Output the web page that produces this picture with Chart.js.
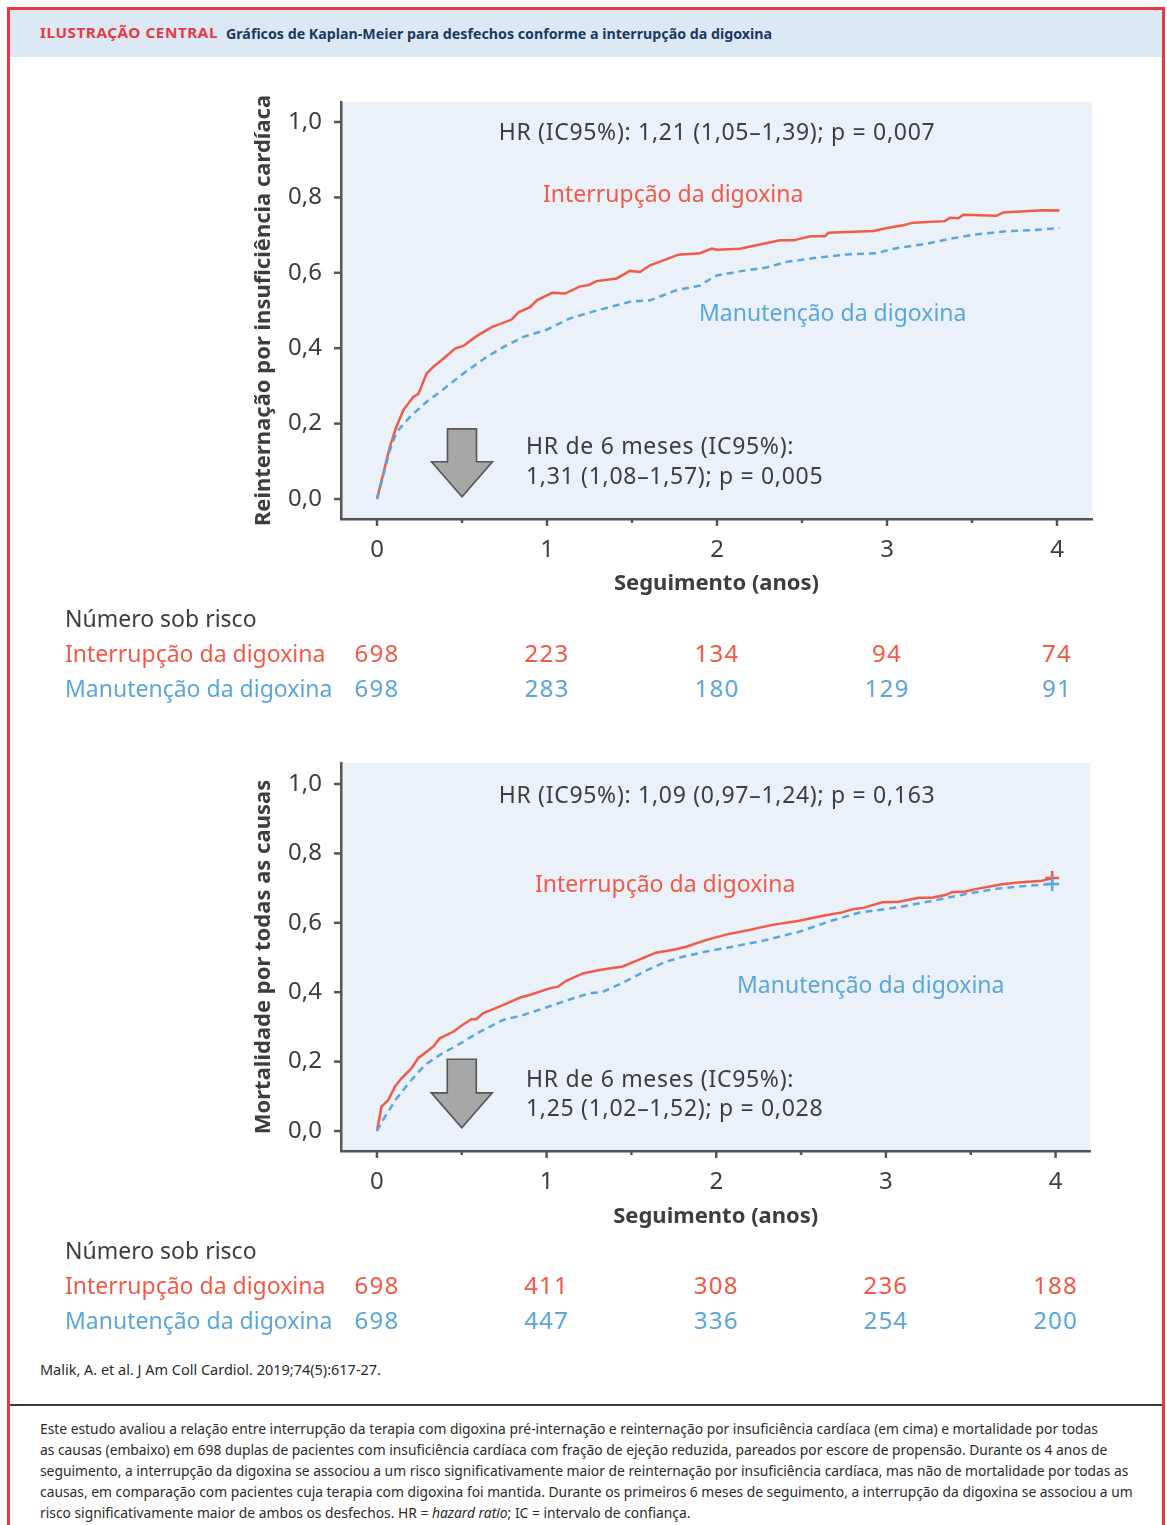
<!DOCTYPE html>
<html><head><meta charset="utf-8">
<script src="https://cdn.jsdelivr.net/npm/chart.js@4.4.1/dist/chart.umd.min.js"></script>
<style>
body{margin:0;background:#fff;}
#page{position:relative;width:1167px;height:1525px;overflow:hidden;font-family:"Noto Sans",sans-serif;color:#404040;}
.abs{position:absolute;white-space:nowrap;line-height:1;}
.vc{transform:translateY(-50%);}
.frame{position:absolute;left:7px;top:7px;width:1158px;height:1560px;box-sizing:border-box;border:3px solid #e53a40;}
.band{position:absolute;left:10px;top:10px;width:1152px;height:47px;background:#dce8f4;}
.ann{font-size:23px;color:#3d3d3d;}
.hr{letter-spacing:0.7px;}
.red{color:#f05a46;}
.blue{color:#5aa6dc;}
.risk{font-size:23px;}
.num{font-size:24px;letter-spacing:1.2px;transform:translate(-50%,-50%);}
.cv{position:absolute;}
.foot{font-size:14px;color:#2a2a2a;transform-origin:0 50%;}
</style></head><body><div id="page">
<div class="frame"></div>
<div class="band"></div>
<div id="hlabel" class="abs" style="left:40px;top:33px;font-size:14px;font-weight:700;color:#e53a40;letter-spacing:0.5px;transform-origin:0 50%;">ILUSTRAÇÃO CENTRAL</div>
<div id="htitle" class="abs" style="left:226px;top:33px;font-size:14.5px;font-weight:700;color:#1c3662;transform-origin:0 50%;">Gráficos de Kaplan-Meier para desfechos conforme a interrupção da digoxina</div>

<div class="cv" style="left:230px;top:85px;width:870px;height:520px;"><canvas id="c1"></canvas></div>
<div class="cv" style="left:230px;top:745px;width:870px;height:493px;"><canvas id="c2"></canvas></div>

<div class="abs ann hr" style="left:717px;top:131px;transform:translate(-50%,-50%);">HR (IC95%): 1,21 (1,05–1,39); p = 0,007</div>
<div class="abs vc ann red" style="left:543px;top:193px;">Interrupção da digoxina</div>
<div class="abs vc ann blue" style="left:699px;top:312px;">Manutenção da digoxina</div>
<div class="abs vc ann hr" style="left:526px;top:445px;">HR de 6 meses (IC95%):</div>
<div class="abs vc ann hr" style="left:526px;top:475px;">1,31 (1,08–1,57); p = 0,005</div>

<div class="abs ann hr" style="left:717px;top:794px;transform:translate(-50%,-50%);">HR (IC95%): 1,09 (0,97–1,24); p = 0,163</div>
<div class="abs vc ann red" style="left:535px;top:883px;">Interrupção da digoxina</div>
<div class="abs vc ann blue" style="left:737px;top:984px;">Manutenção da digoxina</div>
<div class="abs vc ann hr" style="left:526px;top:1078px;">HR de 6 meses (IC95%):</div>
<div class="abs vc ann hr" style="left:526px;top:1107px;">1,25 (1,02–1,52); p = 0,028</div>

<div id="risk1"></div>
<div id="risk2"></div>

<div id="cite" class="abs foot" style="left:40px;top:1370px;font-size:14px;">Malik, A. et al. J Am Coll Cardiol. 2019;74(5):617-27.</div>
<div class="abs" style="left:10px;top:1404px;width:1152px;height:2px;background:#3a3a3a;"></div>
<div id="footer"></div>

<script>
// ---------- DATA ----------
const xTickValues = [0, 0.5, 1, 1.5, 2, 2.5, 3, 3.5, 4];
const yTickValues = [0, 0.2, 0.4, 0.6, 0.8, 1.0];
const riskTimes = [0, 1, 2, 3, 4];

// Top: reinternação por insuficiência cardíaca
const hfInterruptT = [0, 0.076, 0.11, 0.155, 0.214, 0.243, 0.292, 0.33, 0.39, 0.459, 0.508, 0.586, 0.675, 0.792, 0.832, 0.9, 0.94, 1.03, 1.106, 1.194, 1.243, 1.292, 1.41, 1.488, 1.547, 1.606, 1.685, 1.773, 1.9, 1.969, 2.0, 2.135, 2.37, 2.45, 2.55, 2.635, 2.655, 2.92, 3.0, 3.096, 3.155, 3.34, 3.37, 3.42, 3.45, 3.645, 3.685, 3.92, 4.015];
const hfInterruptV = [0, 0.139, 0.187, 0.236, 0.271, 0.278, 0.333, 0.35, 0.372, 0.399, 0.406, 0.432, 0.456, 0.476, 0.495, 0.509, 0.527, 0.547, 0.545, 0.564, 0.567, 0.578, 0.585, 0.605, 0.602, 0.62, 0.633, 0.648, 0.652, 0.664, 0.661, 0.664, 0.686, 0.686, 0.697, 0.697, 0.706, 0.711, 0.719, 0.726, 0.733, 0.737, 0.746, 0.745, 0.754, 0.751, 0.76, 0.766, 0.765];
const hfMaintainT = [0, 0.076, 0.116, 0.194, 0.292, 0.37, 0.508, 0.645, 0.743, 0.861, 0.998, 1.135, 1.292, 1.488, 1.606, 1.763, 1.9, 1.98, 2.0, 2.175, 2.29, 2.41, 2.586, 2.78, 2.94, 3.04, 3.233, 3.37, 3.51, 3.70, 3.86, 4.015];
const hfMaintainV = [0, 0.13, 0.178, 0.218, 0.258, 0.284, 0.333, 0.377, 0.403, 0.43, 0.449, 0.479, 0.5, 0.523, 0.527, 0.554, 0.566, 0.589, 0.593, 0.607, 0.614, 0.629, 0.64, 0.649, 0.652, 0.664, 0.677, 0.69, 0.701, 0.71, 0.713, 0.719];

// Bottom: mortalidade por todas as causas
const mortInterruptT = [0, 0.027, 0.067, 0.106, 0.145, 0.204, 0.243, 0.331, 0.37, 0.449, 0.508, 0.557, 0.586, 0.625, 0.743, 0.841, 0.9, 1.018, 1.067, 1.116, 1.214, 1.312, 1.449, 1.567, 1.645, 1.763, 1.822, 1.939, 2.057, 2.194, 2.331, 2.488, 2.645, 2.743, 2.812, 2.87, 2.92, 2.98, 3.076, 3.194, 3.27, 3.35, 3.39, 3.47, 3.527, 3.685, 3.78, 3.92, 3.98];
const mortInterruptV = [0, 0.07, 0.089, 0.128, 0.152, 0.181, 0.21, 0.243, 0.267, 0.286, 0.307, 0.322, 0.322, 0.339, 0.363, 0.384, 0.392, 0.411, 0.416, 0.433, 0.454, 0.464, 0.474, 0.498, 0.514, 0.524, 0.531, 0.55, 0.566, 0.579, 0.594, 0.606, 0.622, 0.63, 0.64, 0.643, 0.651, 0.659, 0.661, 0.672, 0.672, 0.68, 0.688, 0.69, 0.697, 0.711, 0.716, 0.721, 0.728];
const mortMaintainT = [0, 0.047, 0.116, 0.194, 0.282, 0.37, 0.508, 0.606, 0.743, 0.861, 0.998, 1.135, 1.253, 1.331, 1.449, 1.586, 1.704, 1.802, 1.939, 2.096, 2.29, 2.488, 2.68, 2.84, 3.076, 3.27, 3.47, 3.665, 3.82, 3.98];
const mortMaintainV = [0, 0.041, 0.094, 0.142, 0.19, 0.219, 0.257, 0.286, 0.32, 0.334, 0.356, 0.379, 0.397, 0.401, 0.427, 0.462, 0.488, 0.502, 0.517, 0.531, 0.55, 0.574, 0.606, 0.629, 0.645, 0.663, 0.683, 0.699, 0.706, 0.712];
const mortCensorT = [3.98];
const mortCensorInterruptV = [0.729];
const mortCensorMaintainV = [0.712];

// Número sob risco
const hfRiskInterrupt = [698, 223, 134, 94, 74];
const hfRiskMaintain = [698, 283, 180, 129, 91];
const mortRiskInterrupt = [698, 411, 308, 236, 188];
const mortRiskMaintain = [698, 447, 336, 254, 200];

const RED = '#f05a46', BLUE = '#5aa6dc', AX = '#555555', TXT = '#3d3d3d', BG = '#eaf1f9';
const FONT = '"Noto Sans", sans-serif';

const pts = (t, v) => t.map((x, i) => ({x: x, y: v[i]}));

const bgPlugin = {
  id: 'bg',
  beforeDraw(chart) {
    const a = chart.chartArea, c = chart.ctx;
    c.save(); c.fillStyle = BG; c.fillRect(a.left, a.top, a.right - a.left, a.bottom - a.top); c.restore();
  }
};
const tickPlugin = {
  id: 'ticks',
  afterDraw(chart) {
    const c = chart.ctx, a = chart.chartArea, xs = chart.scales.x, ys = chart.scales.y;
    c.save(); c.strokeStyle = AX; c.lineWidth = 2.5;
    xTickValues.forEach(v => {
      const px = xs.getPixelForValue(v), len = Number.isInteger(v) ? 7 : 4;
      c.beginPath(); c.moveTo(px, a.bottom); c.lineTo(px, a.bottom + len); c.stroke();
    });
    yTickValues.forEach(v => {
      const py = ys.getPixelForValue(v);
      c.beginPath(); c.moveTo(a.left, py); c.lineTo(a.left - 7, py); c.stroke();
    });
    c.restore();
  }
};
const arrowPlugin = {
  id: 'arrow',
  afterDatasetsDraw(chart, args, o) {
    if (!o || o.x === undefined) return;
    const c = chart.ctx, xs = chart.scales.x, ys = chart.scales.y;
    const cx = xs.getPixelForValue(o.x);
    const yTop = ys.getPixelForValue(o.top), yHead = ys.getPixelForValue(o.head), yTip = ys.getPixelForValue(o.tip);
    const sw = 14.5, hw = 30.5;
    c.save();
    c.beginPath();
    c.moveTo(cx - sw, yTop); c.lineTo(cx + sw, yTop); c.lineTo(cx + sw, yHead); c.lineTo(cx + hw, yHead);
    c.lineTo(cx, yTip); c.lineTo(cx - hw, yHead); c.lineTo(cx - sw, yHead); c.closePath();
    c.fillStyle = '#a7a7a7'; c.fill();
    c.strokeStyle = '#555'; c.lineWidth = 1.6; c.lineJoin = 'miter'; c.stroke();
    c.restore();
  }
};

function makeChart(id, cfg) {
  return new Chart(document.getElementById(id), {
    type: 'line',
    data: { datasets: cfg.datasets },
    plugins: [bgPlugin, tickPlugin, arrowPlugin],
    options: {
      responsive: true, maintainAspectRatio: false, animation: false,
      layout: { padding: { top: cfg.padTop, right: 8, left: 0, bottom: 0 } },
      plugins: { legend: { display: false }, tooltip: { enabled: false }, arrow: cfg.arrow },
      elements: { point: { radius: 0 }, line: { tension: 0 } },
      scales: {
        x: {
          type: 'linear', min: cfg.xMin, max: cfg.xMax,
          afterBuildTicks: s => { s.ticks = xTickValues.map(v => ({value: v})); },
          afterFit: s => { s.height = cfg.xHeight; s.paddingLeft = 0; s.paddingRight = 0; },
          ticks: { padding: 17, color: TXT, font: { family: FONT, size: 24 }, maxRotation: 0, autoSkip: false,
                   callback: v => Number.isInteger(v) ? String(v) : '' },
          grid: { display: false, drawTicks: false },
          border: { display: true, color: AX, width: 2.5 },
          title: { display: true, text: 'Seguimento (anos)', color: TXT, font: { family: FONT, size: 22, weight: 'bold' }, padding: { top: 0, bottom: 8 } }
        },
        y: {
          type: 'linear', min: cfg.yMin, max: cfg.yMax,
          afterBuildTicks: s => { s.ticks = yTickValues.map(v => ({value: v})); },
          afterFit: s => { s.width = 111; s.paddingTop = 0; s.paddingBottom = 0; },
          ticks: { padding: 19, color: TXT, font: { family: FONT, size: 24 },
                   callback: v => v.toFixed(1).replace('.', ',') },
          grid: { display: false, drawTicks: false },
          border: { display: true, color: AX, width: 2.5 },
          title: { display: true, text: cfg.yTitle, color: TXT, font: { family: FONT, size: 22, weight: 'bold' }, padding: { top: 21, bottom: 0 } }
        }
      }
    }
  });
}

const ds = (label, t, v, color, dashed) => ({
  label, data: pts(t, v), borderColor: color, borderWidth: 2.5, fill: false,
  borderDash: dashed ? [7, 5] : [], pointRadius: 0
});
const censor = (t, v, color) => ({
  data: pts(t, v), showLine: false, pointStyle: 'cross', pointRadius: 7, pointBorderWidth: 2.5,
  pointBorderColor: color, borderColor: color, pointBackgroundColor: color
});

const chart1 = makeChart('c1', {
  padTop: 17, xHeight: 86,
  xMin: -0.2118, xMax: 4.2059, yMin: -0.053, yMax: 1.053,
  yTitle: 'Reinternação por insuficiência cardíaca',
  arrow: { x: 0.5, top: 0.186, head: 0.099, tip: 0.006 },
  datasets: [
    ds('Manutenção da digoxina', hfMaintainT, hfMaintainV, BLUE, true),
    ds('Interrupção da digoxina', hfInterruptT, hfInterruptV, RED, false)
  ]
});
const chart2 = makeChart('c2', {
  padTop: 18, xHeight: 87,
  xMin: -0.2118, xMax: 4.2059, yMin: -0.0576, yMax: 1.0605,
  yTitle: 'Mortalidade por todas as causas',
  arrow: { x: 0.5, top: 0.207, head: 0.11, tip: 0.0095 },
  datasets: [
    censor(mortCensorT, mortCensorMaintainV, BLUE),
    censor(mortCensorT, mortCensorInterruptV, RED),
    ds('Manutenção da digoxina', mortMaintainT, mortMaintainV, BLUE, true),
    ds('Interrupção da digoxina', mortInterruptT, mortInterruptV, RED, false)
  ]
});

// ---------- risk tables ----------
function riskTable(holderId, chart, canvasLeft, axisY, rowsI, rowsM) {
  const h = document.getElementById(holderId);
  const xs = chart.scales.x;
  const add = (html, cls, left, top, extra) => {
    const d = document.createElement('div');
    d.className = 'abs ' + cls; d.style.left = left + 'px'; d.style.top = top + 'px';
    if (extra) Object.assign(d.style, extra);
    d.textContent = html; h.appendChild(d); return d;
  };
  add('Número sob risco', 'vc risk', 65, axisY + 99, { color: TXT });
  add('Interrupção da digoxina', 'vc risk red', 65, axisY + 134);
  add('Manutenção da digoxina', 'vc risk blue', 65, axisY + 169);
  riskTimes.forEach((t, i) => {
    const px = canvasLeft + xs.getPixelForValue(t);
    add(String(rowsI[i]), 'num red', px, axisY + 134);
    add(String(rowsM[i]), 'num blue', px, axisY + 169);
  });
}
riskTable('risk1', chart1, 230, 519, hfRiskInterrupt, hfRiskMaintain);
riskTable('risk2', chart2, 230, 1151, mortRiskInterrupt, mortRiskMaintain);

// ---------- footer ----------
const footLines = [
  'Este estudo avaliou a relação entre interrupção da terapia com digoxina pré-internação e reinternação por insuficiência cardíaca (em cima) e mortalidade por todas',
  'as causas (embaixo) em 698 duplas de pacientes com insuficiência cardíaca com fração de ejeção reduzida, pareados por escore de propensão. Durante os 4 anos de',
  'seguimento, a interrupção da digoxina se associou a um risco significativamente maior de reinternação por insuficiência cardíaca, mas não de mortalidade por todas as',
  'causas, em comparação com pacientes cuja terapia com digoxina foi mantida. Durante os primeiros 6 meses de seguimento, a interrupção da digoxina se associou a um',
  'risco significativamente maior de ambos os desfechos. HR = <i>hazard ratio</i>; IC = intervalo de confiança.'
];
const footTops = [1429, 1450, 1471, 1492, 1513];
const fh = document.getElementById('footer');
const footEls = footLines.map((s, i) => {
  const d = document.createElement('div');
  d.className = 'abs foot';
  d.style.left = '40px'; d.style.top = footTops[i] + 'px';
  d.innerHTML = s; fh.appendChild(d); return d;
});
const k = 1058 / footEls[0].getBoundingClientRect().width;
footEls.forEach(d => { d.style.transform = 'translateY(-50%) scaleX(' + k + ')'; });
const cite = document.getElementById('cite');
const kc = 341 / cite.getBoundingClientRect().width;
cite.style.transform = 'translateY(-50%) scaleX(' + kc + ')';
const ht = document.getElementById('htitle');
const kh = 546 / ht.getBoundingClientRect().width;
ht.style.transform = 'translateY(-50%) scaleX(' + kh + ')';
const hl = document.getElementById('hlabel');
const kl = 178 / hl.getBoundingClientRect().width;
hl.style.transform = 'translateY(-50%) scaleX(' + kl + ')';
</script>
</div></body></html>
